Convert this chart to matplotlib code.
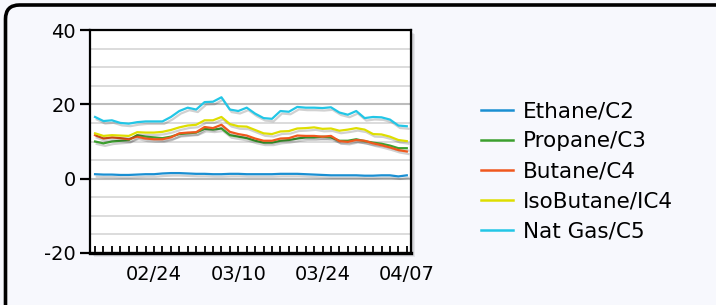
import matplotlib
matplotlib.use("Agg")
import matplotlib.pyplot as plt
import matplotlib.patheffects as pe
from matplotlib.patches import FancyBboxPatch, Rectangle
from matplotlib.lines import Line2D

plt.rcParams.update({"font.family": ["DejaVu Sans"], "font.size": 13, "axes.unicode_minus": False})

# business days, 02/13 .. 04/07
days = list(range(38))
tick_days = [7, 17, 27, 37]
tick_labels = ["02/24", "03/10", "03/24", "04/07"]

ethane = [1.2, 1.1, 1.1, 1.0, 1.0, 1.1, 1.2, 1.2, 1.4, 1.5, 1.5, 1.4, 1.3, 1.3, 1.2, 1.2, 1.3, 1.3,
          1.2, 1.2, 1.2, 1.2, 1.3, 1.3, 1.3, 1.2, 1.1, 1.0, 0.9, 0.9, 0.9, 0.9, 0.8, 0.8, 0.9, 0.9, 0.6, 0.9]
propane = [10.0, 9.5, 10.0, 10.2, 10.4, 11.7, 11.3, 11.1, 10.9, 11.3, 12.0, 12.2, 12.4, 13.4, 13.2, 13.5, 11.7, 11.3,
           10.9, 10.2, 9.7, 9.7, 10.2, 10.4, 10.8, 11.1, 11.1, 11.3, 11.1, 10.2, 10.2, 10.6, 10.1, 9.7, 9.4, 8.9, 8.2, 8.2]
butane = [11.7, 10.8, 11.1, 10.9, 10.6, 11.3, 10.8, 10.6, 10.6, 11.1, 12.2, 12.4, 12.5, 13.9, 13.6, 14.5, 12.6, 12.0,
          11.6, 10.8, 10.2, 10.2, 10.8, 10.9, 11.6, 11.5, 11.5, 11.3, 11.5, 10.1, 9.9, 10.4, 10.2, 9.5, 9.0, 8.4, 7.7, 7.3]
isobutane = [12.2, 11.5, 11.7, 11.6, 11.5, 12.5, 12.4, 12.4, 12.6, 13.1, 13.8, 14.3, 14.5, 15.7, 15.7, 16.6, 14.7, 14.1,
             14.0, 13.1, 12.2, 12.0, 12.7, 12.8, 13.5, 13.6, 13.8, 13.4, 13.5, 12.9, 13.2, 13.6, 13.2, 12.0, 11.9, 11.3, 10.4, 10.1]
natgas = [16.6, 15.5, 15.7, 15.0, 14.8, 15.2, 15.4, 15.4, 15.4, 16.6, 18.2, 19.1, 18.6, 20.6, 20.7, 21.9, 18.6, 18.2,
          19.1, 17.5, 16.3, 16.1, 18.2, 18.0, 19.3, 19.1, 19.1, 19.0, 19.2, 17.8, 17.2, 18.2, 16.3, 16.6, 16.5, 15.9, 14.3, 14.1]

series = [("Ethane/C2", ethane, "#1a8fd2"),
          ("Propane/C3", propane, "#3c9f2e"),
          ("Butane/C4", butane, "#f0581e"),
          ("IsoButane/IC4", isobutane, "#dede00"),
          ("Nat Gas/C5", natgas, "#22c6e6")]

fig = plt.figure(figsize=(7.16, 3.05), dpi=100)
fig.patch.set_facecolor("#f7f8fd")
W, H = 716.0, 305.0

# rounded frame in pixels; right and bottom edges fall just outside the image
fig.patches.append(FancyBboxPatch((5.5, -14), 740, 314, boxstyle="round,pad=0,rounding_size=14",
                                  transform=None, fc="none", ec="black", lw=2.6, figure=fig, zorder=5))

l, r, b, t = 90/W, 411/W, 1-253/H, 1-30/H
# plot-area shadow
for k in range(3):
    fig.patches.append(Rectangle((l + (k + 2)/W, b - (k + 2)/H), r - l, t - b, transform=fig.transFigure,
                                 fc="black", alpha=0.07, ec="none", figure=fig, zorder=0))

ax = fig.add_axes([l, b, r - l, t - b], zorder=1)
ax.set_facecolor("white")
shadow = [pe.SimpleLineShadow(offset=(1.2, -1.8), shadow_color="black", alpha=0.18), pe.Normal()]
for name, vals, col in series:
    ax.plot(days, vals, color=col, lw=1.6, path_effects=shadow, zorder=3)

ax.set_xlim(-0.6, 37.5)
ax.set_ylim(-20, 40)
ax.set_yticks([-20, 0, 20, 40])
ax.set_yticks(range(-15, 40, 5), minor=True)
ax.grid(True, axis="y", which="minor", color="#dcdcdc", lw=1.4)
ax.grid(True, axis="y", which="major", color="#bcbcbc", lw=1.5)
ax.set_axisbelow(True)
ax.tick_params(axis="y", which="major", direction="out", length=7, width=1.6, pad=3, labelsize=14)
ax.tick_params(axis="y", which="minor", length=0)

ax.set_xticks(days)
ax.set_xticklabels([tick_labels[tick_days.index(d)] if d in tick_days else "" for d in days])
ax.tick_params(axis="x", direction="in", length=5, width=1.3, pad=9, labelsize=14)

for s in ax.spines.values():
    s.set_linewidth(1.6)
ax.spines["bottom"].set_linewidth(2.4)

handles = [Line2D([], [], color=col, lw=1.8) for _, _, col in series]
labels = [name for name, _, _ in series]
fig.legend(handles, labels, loc="upper left", bbox_to_anchor=(462/W, 1-82/H), frameon=False,
           fontsize=15.5, handlelength=1.45, handletextpad=0.47, labelspacing=0.47)

fig.savefig("out.png", dpi=100, facecolor=fig.get_facecolor())
